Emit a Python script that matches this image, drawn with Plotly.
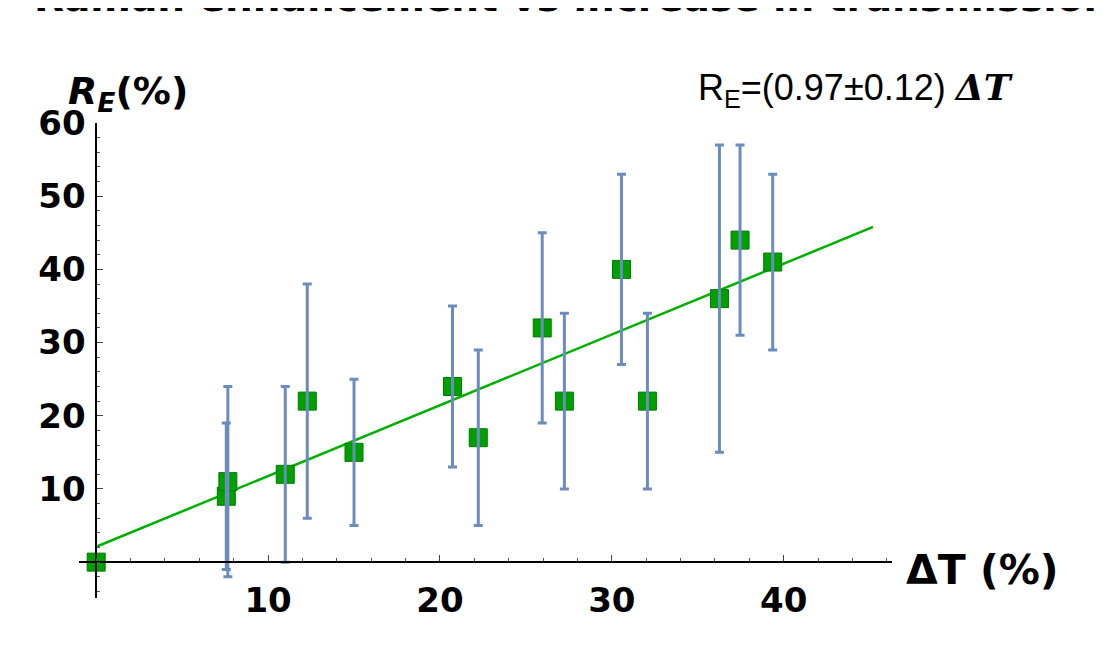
import plotly.graph_objects as go

# ---- data ----
delta_t = [0, 7.57, 7.66, 11.0, 12.28, 15.0, 20.73, 22.23, 25.95, 27.24, 30.56, 32.07, 36.26, 37.46, 39.36]
r_e = [0, 9, 11, 12, 22, 15, 24, 17, 32, 22, 40, 22, 36, 44, 41]
r_err = [0, 10, 13, 12, 16, 10, 11, 12, 13, 12, 13, 12, 21, 13, 12]
fit_x = [0, 45.2]
fit_y = [2.1, 45.8]
x_ticks = [10, 20, 30, 40]
y_ticks = [10, 20, 30, 40, 50, 60]

W, H = 1106, 650
OFF = 8  # page body margin
ML, MR, MT, MB = 71, 222, 115, 60
X_RANGE = [-1, 46.3]
Y_RANGE = [-4.9, 60]

def px_to_paper(px, py):
    pw = W - ML - MR
    ph = H - MT - MB
    return (px - OFF - ML) / pw, (H - MB - (py - OFF)) / ph

x_axis_pos = (0 - Y_RANGE[0]) / (Y_RANGE[1] - Y_RANGE[0])
y_axis_pos = (0 - X_RANGE[0]) / (X_RANGE[1] - X_RANGE[0])

fig = go.Figure()

fig.add_trace(go.Scatter(x=fit_x, y=fit_y, mode="lines",
                         line=dict(color="#00B000", width=2.5),
                         hoverinfo="skip", showlegend=False))

fig.add_trace(go.Scatter(x=delta_t, y=r_e, mode="markers",
                         marker=dict(symbol="square", size=18, color="#00A000",
                                     line=dict(color="#007A00", width=1)),
                         cliponaxis=False, showlegend=False))

ex = [x for x, e in zip(delta_t, r_err) if e > 0]
ey = [y for y, e in zip(r_e, r_err) if e > 0]
ee = [e for e in r_err if e > 0]
fig.add_trace(go.Scatter(x=ex, y=ey, mode="markers",
                         marker=dict(size=1, color="rgba(0,0,0,0)"),
                         error_y=dict(type="data", array=ee, visible=True,
                                      color="#6B8CC0", thickness=3, width=4.5),
                         showlegend=False, hoverinfo="skip"))

tickfont = dict(family="DejaVu Sans", size=34, color="black")

fig.update_layout(
    width=W, height=H,
    margin=dict(l=ML, r=MR, t=MT, b=MB),
    paper_bgcolor="white", plot_bgcolor="white",
    xaxis=dict(range=X_RANGE, anchor="free", position=x_axis_pos,
               showgrid=False, zeroline=False, showline=True,
               linecolor="black", linewidth=1.5,
               tickmode="array", tickvals=x_ticks,
               ticktext=[f"<b>{v}</b>" for v in x_ticks],
               ticks="inside", ticklen=6, tickwidth=1, tickcolor="#444",
               ticklabelstandoff=8, tickfont=tickfont,
               minor=dict(tickmode="linear", tick0=0, dtick=2, ticks="inside",
                          ticklen=3, tickwidth=1, tickcolor="#555")),
    yaxis=dict(range=Y_RANGE, anchor="free", position=y_axis_pos,
               showgrid=False, zeroline=False, showline=True,
               linecolor="black", linewidth=1.5,
               tickmode="array", tickvals=y_ticks,
               ticktext=[f"<b>{v}</b>" for v in y_ticks],
               ticks="inside", ticklen=6, tickwidth=1, tickcolor="#444",
               ticklabelstandoff=3, tickfont=tickfont,
               minor=dict(tickmode="linear", tick0=0, dtick=2, ticks="inside",
                          ticklen=3, tickwidth=1, tickcolor="#555")),
)

annots = []
# cut-off title at the very top
tx, ty = px_to_paper(32, 22)
annots.append(dict(text="<b>Raman enhancement vs increase in transmission</b>",
                   xref="paper", yref="paper", x=tx, y=ty,
                   xanchor="left", yanchor="bottom", showarrow=False,
                   font=dict(family="DejaVu Sans", size=39, color="black")))
# y-axis title
ax_, ay_ = px_to_paper(66, 93)
annots.append(dict(text="<b><i>R</i><sub><i>E</i></sub>(%)</b>",
                   xref="paper", yref="paper", x=ax_, y=ay_,
                   xanchor="left", yanchor="middle", showarrow=False,
                   font=dict(family="DejaVu Sans", size=38, color="black")))
# x-axis title
bx, by = px_to_paper(904, 570)
annots.append(dict(text="<b>ΔT (%)</b>",
                   xref="paper", yref="paper", x=bx, y=by,
                   xanchor="left", yanchor="middle", showarrow=False,
                   font=dict(family="DejaVu Sans", size=41, color="black")))
# fit equation
cx, cy = px_to_paper(696, 90)
annots.append(dict(text="R<sub>E</sub>=(0.97±0.12) "
                        "<span style=\"font-family:'DejaVu Serif'\"><b><i>ΔT</i></b></span>",
                   xref="paper", yref="paper", x=cx, y=cy,
                   xanchor="left", yanchor="middle", showarrow=False,
                   font=dict(family="Liberation Sans", size=36, color="black")))
fig.update_layout(annotations=annots)

fig.write_html("out.html")
